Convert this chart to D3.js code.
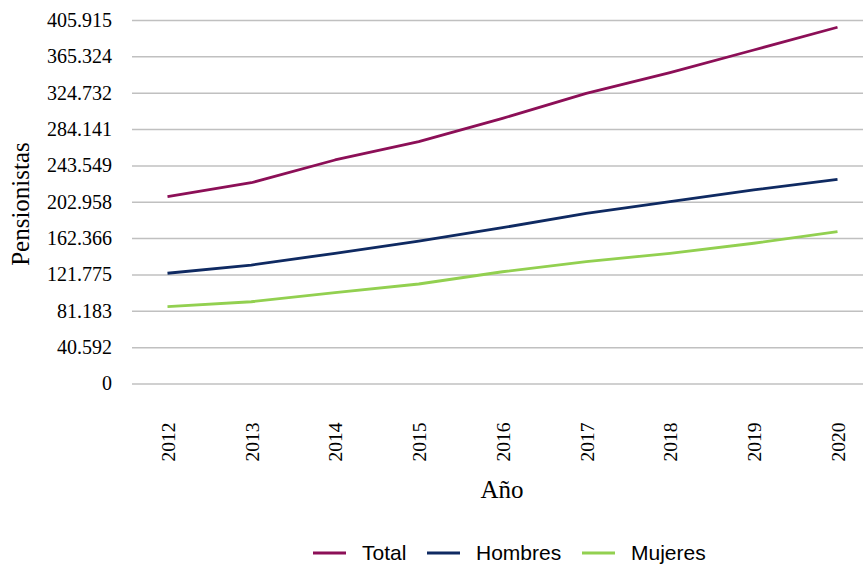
<!DOCTYPE html>
<html>
<head>
<meta charset="utf-8">
<script src="https://cdn.jsdelivr.net/npm/d3@7"></script>
<style>
  html, body { margin: 0; padding: 0; background: #fff; }
  svg { display: block; }
</style>
</head>
<body>
<svg id="chart" width="863" height="567"></svg>
<script>
// Pensionistas por año
const years = ["2012", "2013", "2014", "2015", "2016", "2017", "2018", "2019", "2020"];
const total   = [208600, 224200, 249600, 270000, 296100, 324000, 347100, 372400, 397800];
const hombres = [123100, 132300, 145400, 159100, 174000, 190000, 203000, 216100, 228000];
const mujeres = [85800, 91300, 101400, 111100, 124800, 136000, 145400, 156600, 169500];
const yTicks  = [0, 40592, 81183, 121775, 162366, 202958, 243549, 284141, 324732, 365324, 405915];
const seriesNames = ["Total", "Hombres", "Mujeres"];
const seriesColors = ["#8c0f57", "#0f2a62", "#92d050"];

const series = [total, hombres, mujeres].map((values, i) => ({
  name: seriesNames[i], color: seriesColors[i], values
}));

const svg = d3.select("#chart");
const plotLeft = 132, plotRight = 863, plotTop = 20, plotBottom = 383.5;

const x = d3.scalePoint().domain(years).range([167.5, 837.5]);
const y = d3.scaleLinear().domain([0, 405915]).range([plotBottom, plotTop]);

const fmt = v => d3.format(",")(v).replace(/,/g, ".");

// horizontal gridlines + tick labels
const yAxis = d3.axisLeft(y).tickValues(yTicks).tickSize(-(plotRight - plotLeft)).tickPadding(20).tickFormat(fmt);
const gy = svg.append("g").attr("transform", `translate(${plotLeft},0)`).call(yAxis);
gy.select(".domain").remove();
gy.selectAll(".tick line").attr("stroke", "#c0c0c0").attr("stroke-width", 1.5);
gy.selectAll(".tick text")
  .attr("font-family", "'Liberation Serif', 'Times New Roman', serif")
  .attr("font-size", 20).attr("fill", "#000");

// rotated year labels
const xAxis = d3.axisBottom(x).tickSize(0).tickPadding(0);
const gx = svg.append("g").attr("transform", `translate(0,${plotBottom})`).call(xAxis);
gx.select(".domain").remove();
gx.selectAll(".tick text")
  .attr("font-family", "'Liberation Serif', 'Times New Roman', serif")
  .attr("font-size", 19.5).attr("fill", "#000")
  .attr("text-anchor", "end")
  .attr("transform", "translate(0,39) rotate(-90)")
  .attr("x", 0).attr("y", 0).attr("dy", "0.35em");

// series lines
const line = d3.line().x((d, i) => x(years[i])).y(d => y(d));
svg.append("g").selectAll("path").data(series).join("path")
  .attr("d", d => line(d.values))
  .attr("fill", "none")
  .attr("stroke", d => d.color)
  .attr("stroke-width", 2.8)
  .attr("stroke-linejoin", "round");

// axis titles
svg.append("text")
  .attr("transform", "translate(29,204) rotate(-90)")
  .attr("text-anchor", "middle")
  .attr("font-family", "'Liberation Serif', 'Times New Roman', serif")
  .attr("font-size", 25).text("Pensionistas");
svg.append("text")
  .attr("x", 502).attr("y", 498)
  .attr("text-anchor", "middle")
  .attr("font-family", "'Liberation Serif', 'Times New Roman', serif")
  .attr("font-size", 25).text("Año");

// legend
const legendX = [313, 427, 582];
const legend = svg.append("g").selectAll("g").data(series).join("g")
  .attr("transform", (d, i) => `translate(${legendX[i]},553)`);
legend.append("line")
  .attr("x1", 0).attr("x2", 33).attr("y1", 0).attr("y2", 0)
  .attr("stroke", d => d.color).attr("stroke-width", 2.8);
legend.append("text")
  .attr("x", 49).attr("y", 0).attr("dy", "0.35em")
  .attr("font-family", "'Liberation Sans', Arial, sans-serif")
  .attr("font-size", 21).attr("fill", "#000")
  .text(d => d.name);
</script>
</body>
</html>
